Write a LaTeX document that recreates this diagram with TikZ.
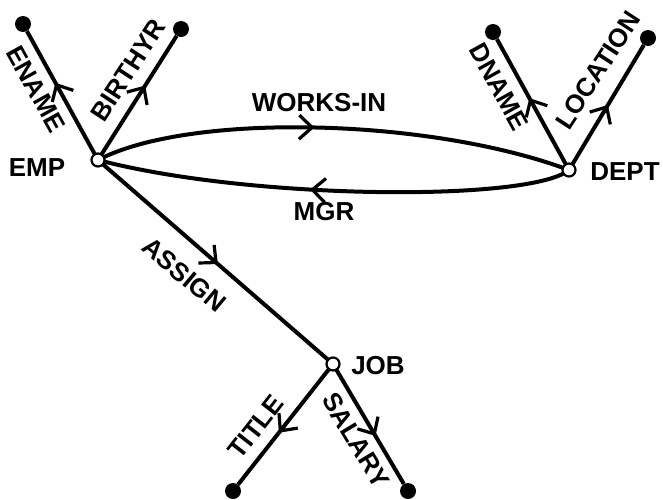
\documentclass[tikz,border=0pt]{standalone}
\usepackage{fontspec}
\setmainfont{Liberation Sans}
\usetikzlibrary{arrows.meta,decorations.markings}
\tikzset{
  ent/.style={circle,draw,fill=white,line width=2.2pt,minimum size=13pt,inner sep=0pt},
  attr/.style={circle,fill=black,minimum size=16pt,inner sep=0pt},
  edge/.style={line width=4pt},
  midarrow/.style={postaction={decorate},decoration={markings,
     mark=at position #1 with {\arrow[line width=3.2pt]{Straight Barb[length=13pt,width=24pt]}}}},
  lbl/.style={font=\bfseries\fontsize{26}{26}\selectfont,inner sep=0pt}
}
\begin{document}
\begin{tikzpicture}[x=1pt,y=-1pt]
\useasboundingbox (0,0) rectangle (663,499);
% attribute end points
\node[attr] (ename) at (23,24) {};
\node[attr] (birth) at (181,29) {};
\node[attr] (dname) at (493,32) {};
\node[attr] (loc) at (648,38) {};
\node[attr] (title) at (233,491) {};
\node[attr] (salary) at (408,491) {};
% edges
\draw[edge,midarrow=0.6] (98,160) -- (ename);
\draw[edge,midarrow=0.6] (98,160) -- (birth);
\draw[edge,midarrow=0.55] (569,170) -- (dname);
\draw[edge,midarrow=0.52] (569,170) -- (loc);
\draw[edge,midarrow=0.57] (333,364) -- (title);
\draw[edge,midarrow=0.6] (333,364) -- (salary);
\draw[edge,midarrow=0.51] (98,160) -- (333,364);
\draw[edge,midarrow=0.46] (98,160) .. controls (190,112) and (430,118) .. (569,170);
\draw[edge,midarrow=0.55] (569,170) .. controls (530,202) and (250,200) .. (98,160);
% entity nodes
\node[ent] (emp) at (98,160) {};
\node[ent] (dept) at (569,170) {};
\node[ent] (job) at (333,364) {};
% labels
\node[lbl] (lemp) at (37,168) {EMP};
\node[lbl] (ldept) at (625,172) {DEPT};
\node[lbl] (ljob) at (378,366) {JOB};
\node[lbl] (lworks) at (319,103) {WORKS-IN};
\node[lbl] (lmgr) at (324,212) {MGR};
\node[lbl,rotate=-61] (lename) at (36,89) {ENAME};
\node[lbl,rotate=57] (lbirth) at (128,70) {BIRTHYR};
\node[lbl,rotate=-61] (ldname) at (499,87) {DNAME};
\node[lbl,rotate=57] (lloc) at (598,70) {LOCATION};
\node[lbl,rotate=-40] (lassign) at (184,275) {ASSIGN};
\node[lbl,rotate=52] (ltitle) at (256,427) {TITLE};
\node[lbl,rotate=-59] (lsalary) at (356,440) {SALARY};
\end{tikzpicture}
\end{document}
